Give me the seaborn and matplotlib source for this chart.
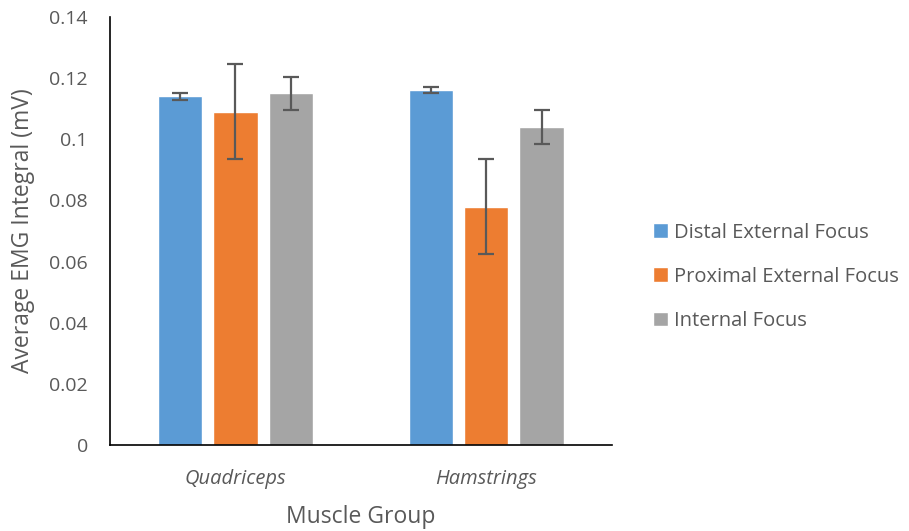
import matplotlib
matplotlib.use("Agg")
from matplotlib import pyplot as plt
import pandas as pd
import seaborn as sns

# ------------------------------- Data --------------------------------
groups = ["Quadriceps", "Hamstrings"]
conditions = ["Distal External Focus", "Proximal External Focus", "Internal Focus"]
means = {
    "Distal External Focus": [0.114, 0.116],
    "Proximal External Focus": [0.109, 0.078],
    "Internal Focus": [0.115, 0.104],
}
errors = {
    "Distal External Focus": [0.001, 0.001],
    "Proximal External Focus": [0.0155, 0.0155],
    "Internal Focus": [0.0055, 0.0055],
}
colors = ["#5B9BD5", "#ED7D31", "#A5A5A5"]

rows = []
for cond in conditions:
    for i, grp in enumerate(groups):
        rows.append({"Group": grp, "Condition": cond, "Value": means[cond][i], "Err": errors[cond][i]})
df = pd.DataFrame(rows)

# ------------------------------- Plot --------------------------------
sns.set_style("white")
plt.rcParams['font.family'] = ['Open Sans', 'DejaVu Sans']

fig = plt.figure(figsize=(9.09, 5.31), dpi=100)
ax = fig.add_axes([0.121, 0.162, 0.552, 0.806])

sns.barplot(data=df, x="Group", y="Value", hue="Condition", order=groups, hue_order=conditions,
            palette=colors, width=0.66, gap=0.2, errorbar=None, saturation=1, ax=ax)

# Error bars at bar centers
for cont, cond in zip(ax.containers, conditions):
    for bar, grp in zip(cont, groups):
        err = df[(df.Group == grp) & (df.Condition == cond)]["Err"].iloc[0]
        ax.errorbar(bar.get_x() + bar.get_width() / 2, bar.get_height(), yerr=err,
                    color="#595959", capsize=6, elinewidth=1.6, capthick=1.6, zorder=5)

ax.set_ylim(0, 0.14)
ax.set_yticks([0, 0.02, 0.04, 0.06, 0.08, 0.1, 0.12, 0.14])
ax.set_yticklabels(["0", "0.02", "0.04", "0.06", "0.08", "0.1", "0.12", "0.14"])
ax.set_xlim(-0.5, 1.5)
ax.tick_params(axis='y', colors="#595959", labelsize=14, length=0, pad=16)
ax.tick_params(axis='x', colors="#595959", labelsize=14.5, length=0, pad=17)
for lbl in ax.get_xticklabels():
    lbl.set_style("italic")

for s in ["top", "right"]:
    ax.spines[s].set_visible(False)
ax.spines["left"].set_color("black")
ax.spines["bottom"].set_color("black")
ax.spines["left"].set_linewidth(1.2)
ax.spines["bottom"].set_linewidth(1.2)

ax.set_xlabel("Muscle Group", fontsize=16.5, color="#595959", labelpad=12)
ax.set_ylabel("Average EMG Integral (mV)", fontsize=16.5, color="#595959", labelpad=10)

ax.legend(loc="center left", bbox_to_anchor=(1.046, 0.393), frameon=False, fontsize=14.5,
          labelcolor="#595959", handlelength=0.75, handleheight=0.75, labelspacing=1.2,
          handletextpad=0.3)

fig.savefig("out.png", dpi=100)
